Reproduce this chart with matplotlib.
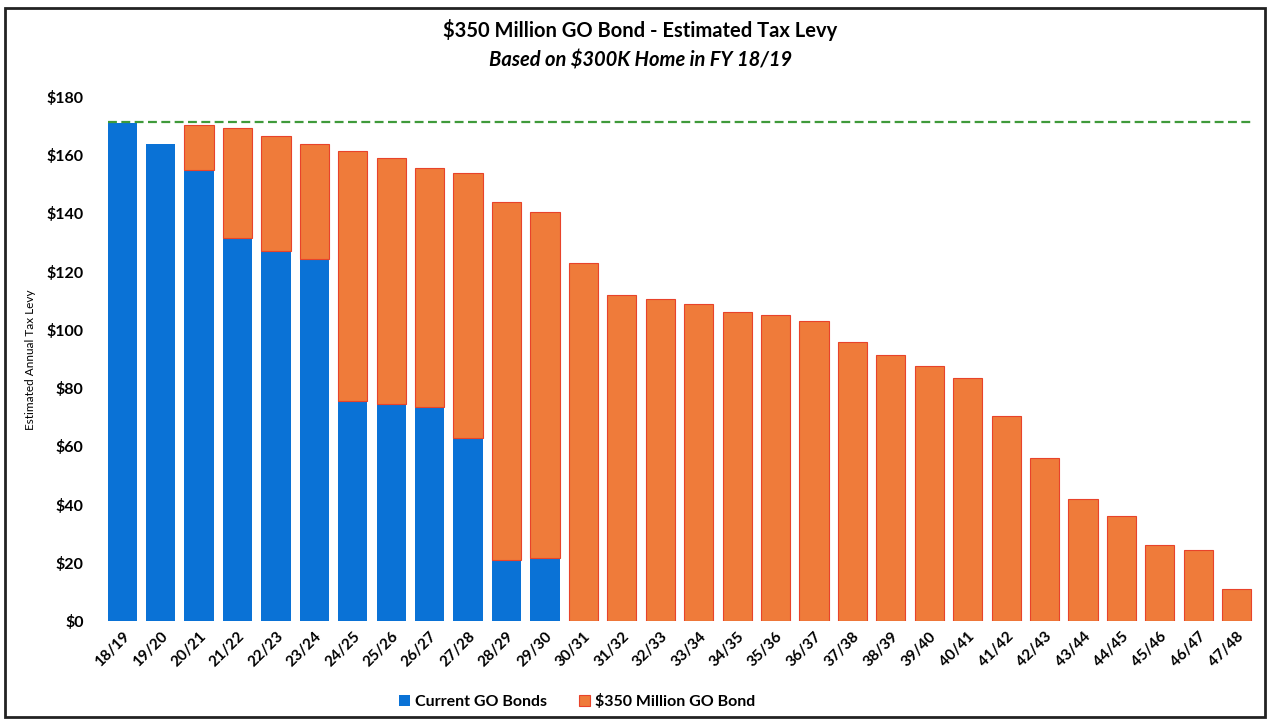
import numpy as np
import matplotlib.pyplot as plt
from matplotlib.patches import Rectangle

# --- データ ---
years = ['18/19', '19/20', '20/21', '21/22', '22/23', '23/24', '24/25', '25/26',
         '26/27', '27/28', '28/29', '29/30', '30/31', '31/32', '32/33', '33/34',
         '34/35', '35/36', '36/37', '37/38', '38/39', '39/40', '40/41', '41/42',
         '42/43', '43/44', '44/45', '45/46', '46/47', '47/48']
total_levy = [171, 164, 170.5, 169.5, 166.5, 164, 161.5, 159, 155.5, 154,
              144, 140.5, 123, 112, 110.5, 109, 106, 105, 103, 96,
              91.5, 87.5, 83.5, 70.5, 56, 42, 36, 26, 24.5, 11]
current_go = [171, 164, 155, 131.5, 127, 124.5, 75.5, 74.5, 73.5, 63,
              21, 21.5, 0, 0, 0, 0, 0, 0, 0, 0,
              0, 0, 0, 0, 0, 0, 0, 0, 0, 0]
new_bond = [t - c for t, c in zip(total_levy, current_go)]
levy_cap = 171.5
y_ticks = [0, 20, 40, 60, 80, 100, 120, 140, 160, 180]

blue = '#0a72d6'
orange = '#ef7b3a'
fnt = 'Lato'

fig = plt.figure(figsize=(12.68, 7.26), dpi=100)
ax = fig.add_axes([0.0812, 0.1446, 0.9093, 0.7218])

x = np.arange(len(years))
w = 0.76
ax.bar(x, current_go, width=w, color=blue, linewidth=0, label='Current GO Bonds')

# 高さ0の棒は描かない（枠線だけが残るため）
idx = [i for i, v in enumerate(new_bond) if v > 0]
ax.bar(x[idx], [new_bond[i] for i in idx], width=w,
       bottom=[current_go[i] for i in idx], color=orange,
       edgecolor='#e8432a', linewidth=0.8, label='$350 Million GO Bond')

# 上限の点線
ax.plot([-w / 2, len(years) - 1 + w / 2], [levy_cap, levy_cap],
        color='#3f9a3a', linestyle=(0, (4, 2)), linewidth=1.6)

ax.set_xlim(-0.5, len(years) - 0.5)
ax.set_ylim(0, 180)
ax.set_yticks(y_ticks)
ax.set_yticklabels(['$%d' % v for v in y_ticks], fontsize=11.5,
                   fontweight='bold', family=fnt)
ax.set_xticks(x)
ax.set_xticklabels(years, rotation=45, ha='right', rotation_mode='anchor',
                   fontsize=11, fontweight='bold', family=fnt)
ax.tick_params(axis='both', length=0, pad=6)
ax.tick_params(axis='y', pad=14)
for s in ax.spines.values():
    s.set_visible(False)

fig.text(0.024, 0.505, 'Estimated Annual Tax Levy', rotation=90,
         ha='center', va='center', fontsize=8.5, family=fnt)

fig.text(0.505, 0.958, '$350 Million GO Bond - Estimated Tax Levy',
         ha='center', va='center', fontsize=14.5, fontweight='bold', family=fnt)
fig.text(0.505, 0.917, 'Based on $300K Home in FY 18/19', ha='center',
         va='center', fontsize=14.5, fontweight='bold', style='italic', family=fnt)

leg = fig.legend(loc='center', bbox_to_anchor=(0.455, 0.034), ncol=2,
                 frameon=False, handlelength=0.7, handleheight=0.7,
                 handletextpad=0.3, columnspacing=2.0,
                 prop={'family': fnt, 'weight': 'bold', 'size': 11.5})

# 外枠
fig.patches.append(Rectangle((0.004, 0.012), 0.994, 0.977, transform=fig.transFigure,
                             fill=False, edgecolor='#222222', linewidth=2))

fig.savefig('out.png', dpi=100)
